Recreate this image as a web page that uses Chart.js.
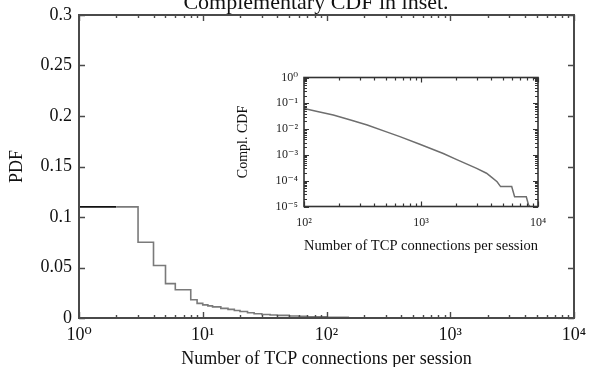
<!DOCTYPE html>
<html>
<head>
<meta charset="utf-8">
<script src="https://cdn.jsdelivr.net/npm/chart.js@4/dist/chart.umd.min.js"></script>
<style>
  html, body { margin: 0; padding: 0; background: #ffffff; }
  #wrap { position: relative; width: 589px; height: 367px; overflow: hidden; }
  #main { position: absolute; left: 0; top: 0; }
  #inset { position: absolute; left: 232px; top: 60px; }
</style>
</head>
<body>
<div id="wrap">
  <canvas id="main" width="589" height="367"></canvas>
  <canvas id="inset" width="316" height="200"></canvas>
</div>
<script>
// ---------- data ----------
const topCaption = 'Complementary CDF in inset.';
const mainXTitle = 'Number of TCP connections per session';
const mainYTitle = 'PDF';
const insetXTitle = 'Number of TCP connections per session';
const insetYTitle = 'Compl. CDF';

// main PDF (step histogram; each value holds until the next x)
const pdfHeadX = [1, 2];
const pdfHeadY = [0.11, 0.11];
const pdfX = [2, 3, 4, 5, 6, 8, 9, 10, 11, 12, 14, 16, 18, 20, 23, 26, 30, 35, 40, 50, 60, 70, 80, 100, 150];
const pdfY = [0.11, 0.075, 0.052, 0.034, 0.028, 0.018, 0.0145, 0.013, 0.012, 0.011, 0.0095, 0.0085, 0.0075, 0.0065, 0.0052, 0.0042, 0.0035, 0.003, 0.0026, 0.002, 0.0016, 0.0013, 0.0011, 0.0008, 0.0004];

// inset complementary CDF
const ccdfX = [100, 130, 178, 250, 347, 500, 660, 977, 1550, 2000, 2990, 3630, 4000, 4470, 4790, 5960, 6310, 7940, 8300, 8500];
const ccdfY = [0.063, 0.0485, 0.035, 0.0224, 0.0145, 0.008, 0.0051, 0.0026, 0.00113, 0.00067, 0.0003, 0.000195, 0.000137, 0.000091, 0.000059, 0.000059, 0.000024, 0.000024, 0.0000115, 0.0000102];

// tick values / labels
const mainXTicks = [1, 10, 100, 1000, 10000];
const mainXTickLabels = ['10\u2070', '10\u00B9', '10\u00B2', '10\u00B3', '10\u2074'];
const mainYTicks = [0, 0.05, 0.1, 0.15, 0.2, 0.25, 0.3];
const mainYTickLabels = ['0', '0.05', '0.1', '0.15', '0.2', '0.25', '0.3'];
const insetXTicks = [100, 1000, 10000];
const insetXTickLabels = ['10\u00B2', '10\u00B3', '10\u2074'];
const insetYTicks = [1, 0.1, 0.01, 0.001, 0.0001, 0.00001];
const insetYTickLabels = ['10\u2070', '10\u207B\u00B9', '10\u207B\u00B2', '10\u207B\u00B3', '10\u207B\u2074', '10\u207B\u2075'];

// ---------- helpers ----------
const SERIF = '"Liberation Serif", "DejaVu Serif", serif';
function pts(xs, ys) { return xs.map((x, i) => ({ x: x, y: ys[i] })); }
function logMinors(decades) {
  const out = [];
  decades.slice(0, -1).forEach(d => { for (let k = 2; k <= 9; k++) out.push(d * k); });
  return out;
}
function noPad(s) { s.paddingLeft = 0; s.paddingRight = 0; s.paddingTop = 0; s.paddingBottom = 0; }

// frame + inward ticks, positioned through the chart's own scales
const frameTicks = {
  id: 'frameTicks',
  afterDatasetsDraw(chart, args, o) {
    const { ctx, chartArea: a, scales } = chart;
    const xs = scales.x, ys = scales.y;
    ctx.save();
    ctx.strokeStyle = o.color;
    ctx.lineWidth = o.tickWidth;
    ctx.beginPath();
    const vx = (vals, len) => vals.forEach(v => {
      const p = Math.round(xs.getPixelForValue(v)) + 0.5;
      ctx.moveTo(p, a.bottom); ctx.lineTo(p, a.bottom - len);
      ctx.moveTo(p, a.top); ctx.lineTo(p, a.top + len);
    });
    const hy = (vals, len) => vals.forEach(v => {
      const p = Math.round(ys.getPixelForValue(v)) + 0.5;
      ctx.moveTo(a.left, p); ctx.lineTo(a.left + len, p);
      ctx.moveTo(a.right, p); ctx.lineTo(a.right - len, p);
    });
    vx(o.xMajor, o.majorLen); vx(o.xMinor, o.minorLen);
    hy(o.yMajor, o.majorLen); hy(o.yMinor, o.minorLen);
    ctx.stroke();
    ctx.lineWidth = o.frameWidth;
    ctx.strokeRect(a.left, a.top, a.right - a.left, a.bottom - a.top);
    ctx.restore();
  }
};

const caption = {
  id: 'caption',
  afterDraw(chart, args, o) {
    const ctx = chart.ctx;
    ctx.save();
    ctx.font = o.font;
    ctx.fillStyle = o.color;
    ctx.textAlign = 'center';
    ctx.textBaseline = 'alphabetic';
    ctx.fillText(o.text, o.x, o.y);
    ctx.restore();
  }
};

// ---------- main chart ----------
new Chart(document.getElementById('main'), {
  type: 'line',
  data: {
    datasets: [
      { data: pts(pdfX, pdfY), stepped: 'before', borderColor: '#7a7a7a', borderWidth: 1.6, pointRadius: 0, fill: false },
      { data: pts(pdfHeadX, pdfHeadY), stepped: 'before', borderColor: '#111111', borderWidth: 1.6, pointRadius: 0, fill: false }
    ]
  },
  options: {
    responsive: false,
    animation: false,
    layout: { padding: { top: 15, right: 15, left: 0, bottom: 0 } },
    plugins: {
      legend: { display: false },
      tooltip: { enabled: false },
      caption: { text: topCaption, x: 316, y: 9, font: '22px ' + SERIF, color: '#111' },
      frameTicks: {
        color: '#4a4a4a', tickWidth: 1.4, frameWidth: 2, majorLen: 6, minorLen: 3,
        xMajor: mainXTicks, xMinor: logMinors(mainXTicks), yMajor: mainYTicks, yMinor: []
      }
    },
    scales: {
      x: {
        type: 'logarithmic', min: 1, max: 10000,
        afterBuildTicks: s => { s.ticks = mainXTicks.map(v => ({ value: v })); },
        afterFit: s => { s.height = 49; noPad(s); },
        grid: { display: false, drawTicks: false },
        border: { display: false },
        ticks: {
          autoSkip: false, maxRotation: 0, padding: 6, color: '#111',
          font: { family: SERIF, size: 18 },
          callback: (v, i) => mainXTickLabels[i]
        },
        title: { display: true, text: mainXTitle, color: '#111', font: { family: SERIF, size: 18, lineHeight: 1 }, padding: { top: 0, bottom: -1 } }
      },
      y: {
        type: 'linear', min: 0, max: 0.3,
        afterBuildTicks: s => { s.ticks = mainYTicks.map(v => ({ value: v })); },
        afterFit: s => { s.width = 79; noPad(s); },
        grid: { display: false, drawTicks: false },
        border: { display: false },
        ticks: {
          autoSkip: false, padding: 7, color: '#111',
          font: { family: SERIF, size: 18 },
          callback: (v, i) => mainYTickLabels[i]
        },
        title: { display: true, text: mainYTitle, color: '#111', font: { family: SERIF, size: 18, lineHeight: 1.2 }, padding: { top: 6, bottom: 0 } }
      }
    }
  },
  plugins: [frameTicks, caption]
});

// ---------- inset chart ----------
new Chart(document.getElementById('inset'), {
  type: 'line',
  data: {
    datasets: [
      { data: pts(ccdfX, ccdfY), borderColor: '#6e6e6e', borderWidth: 1.5, pointRadius: 0, fill: false, tension: 0 }
    ]
  },
  options: {
    responsive: false,
    animation: false,
    layout: { padding: { top: 17.5, right: 10, left: 0, bottom: 0 } },
    plugins: {
      legend: { display: false },
      tooltip: { enabled: false },
      frameTicks: {
        color: '#333', tickWidth: 1.2, frameWidth: 1.6, majorLen: 5, minorLen: 3,
        xMajor: insetXTicks, xMinor: logMinors(insetXTicks),
        yMajor: insetYTicks, yMinor: logMinors(insetYTicks.slice().reverse())
      }
    },
    scales: {
      x: {
        type: 'logarithmic', min: 100, max: 10000,
        afterBuildTicks: s => { s.ticks = insetXTicks.map(v => ({ value: v })); },
        afterFit: s => { s.height = 53.5; noPad(s); },
        grid: { display: false, drawTicks: false },
        border: { display: false },
        ticks: {
          autoSkip: false, maxRotation: 0, padding: 9, color: '#222',
          font: { family: SERIF, size: 12 },
          callback: (v, i) => insetXTickLabels[i]
        },
        title: { display: true, text: insetXTitle, color: '#111', font: { family: SERIF, size: 15.5, lineHeight: 1 }, padding: { top: 0, bottom: 6.5 } }
      },
      y: {
        type: 'logarithmic', min: 0.00001, max: 1,
        afterBuildTicks: s => { s.ticks = insetYTicks.map(v => ({ value: v })); },
        afterFit: s => { s.width = 72; noPad(s); },
        grid: { display: false, drawTicks: false },
        border: { display: false },
        ticks: {
          autoSkip: false, padding: 6, color: '#222',
          font: { family: SERIF, size: 12 },
          callback: (v, i) => insetYTickLabels[i]
        },
        title: { display: true, text: insetYTitle, color: '#111', font: { family: SERIF, size: 14, lineHeight: 1.2 }, padding: { top: 2.6, bottom: 0 } }
      }
    }
  },
  plugins: [frameTicks]
});
</script>
</body>
</html>
